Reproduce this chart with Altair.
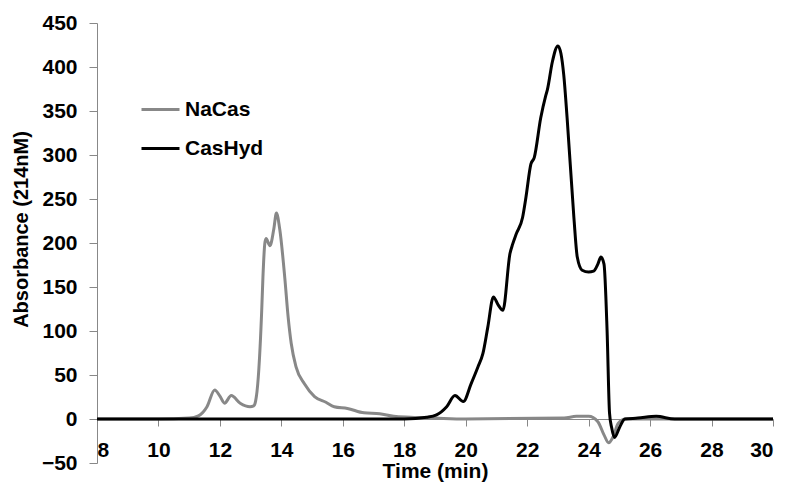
import altair as alt
import pandas as pd

# NaCas (grey) trace
nacas_t = [8, 10, 11.0, 11.3, 11.58, 11.83, 12.0, 12.15, 12.37, 12.66, 12.98, 13.1, 13.16, 13.25,
           13.36, 13.4, 13.46, 13.5, 13.63, 13.75, 13.84, 13.95, 14.11, 14.22, 14.32, 14.48, 14.75,
           15.08, 15.45, 15.72, 16.15, 16.69, 17.2, 17.66, 18.2, 19, 20, 23.2, 23.6, 24.0, 24.3,
           24.5, 24.65, 24.8, 24.96, 25.2, 26, 30]
nacas_v = [0, 0, 1, 3.6, 14, 33, 26, 18, 26.6, 18, 14, 15, 20, 48,
           123, 161, 199, 205, 197, 215, 234, 215, 161, 116, 86, 59, 40,
           25.5, 19, 14, 12, 7, 6, 3, 2, 1, 0, 1, 3, 3, -3,
           -18, -27, -20, -5, 0, 0, 0]

# CasHyd (black) trace
cashyd_t = [8, 18.0, 18.73, 19.05, 19.38, 19.65, 19.92, 20.18, 20.4, 20.56, 20.72, 20.9, 21.05,
            21.21, 21.44, 21.53, 21.64, 21.85, 21.96, 22.12, 22.23, 22.44, 22.6, 22.66, 22.82,
            23.0, 23.1, 23.19, 23.3, 23.52, 23.63, 23.79, 24.0, 24.16, 24.3, 24.4, 24.5, 24.6,
            24.68, 24.75, 24.84, 25.02, 25.18, 25.6, 26.2, 26.8, 30]
cashyd_v = [0, 0, 2, 4.7, 14, 26.6, 19.8, 40.5, 59.4, 74.5, 104.7, 138.7, 130,
            123.6, 188, 199, 210, 229, 252, 289.6, 297, 342, 367, 374.5, 406,
            424, 415, 391, 342, 229, 184, 169, 167, 168, 176, 184, 176, 101,
            6.6, -10, -21, -8.5, 0, 1, 3, 0, 0]

series_names = ["NaCas", "CasHyd"]
series_colors = ["#888888", "#000000"]
x_ticks = list(range(8, 31, 2))
y_ticks = list(range(-50, 451, 50))

df = pd.concat([
    pd.DataFrame({"t": nacas_t, "v": nacas_v, "s": "NaCas", "o": range(len(nacas_t))}),
    pd.DataFrame({"t": cashyd_t, "v": cashyd_v, "s": "CasHyd", "o": range(len(cashyd_t))}),
])

FONT = "Liberation Sans"
FS = 21
H = 440
W = 676

x_enc = alt.X("t:Q", scale=alt.Scale(domain=[8, 30], nice=False, zero=False),
              axis=alt.Axis(values=x_ticks, title="Time (min)", grid=False,
                            offset=-(H * 50 / 500), domainColor="#888888", tickColor="#888888",
                            tickSize=7, labelPadding=13, labelFont=FONT, labelFontSize=FS,
                            labelFontWeight="bold", labelColor="#000000",
                            titleFont=FONT, titleFontSize=FS, titleFontWeight="bold",
                            titleColor="#000000", titleBaseline="alphabetic", titleY=58))
y_enc = alt.Y("v:Q", scale=alt.Scale(domain=[-50, 450], nice=False, zero=False),
              axis=alt.Axis(values=y_ticks, title="Absorbance (214nM)", grid=False,
                            domainColor="#888888", tickColor="#888888", tickSize=8,
                            labelPadding=12, labelFont=FONT, labelFontSize=FS,
                            labelFontWeight="bold", labelColor="#000000",
                            titleFont=FONT, titleFontSize=20, titleFontWeight="bold",
                            titleColor="#000000", titleAngle=270, titleX=-76, titleY=206,
                            titleAlign="center", titleBaseline="middle"))
color_enc = alt.Color("s:N", scale=alt.Scale(domain=series_names, range=series_colors),
                      legend=alt.Legend(title=None, orient="none", legendX=43, legendY=66,
                                        symbolType="stroke", symbolSize=1444,
                                        symbolStrokeWidth=3, labelFont=FONT, labelFontSize=FS,
                                        labelFontWeight="bold", labelColor="#000000",
                                        labelOffset=4, rowPadding=8, padding=0))

base = alt.Chart(df).mark_line(strokeWidth=3, interpolate="monotone")
layers = [
    base.transform_filter(alt.datum.s == name).encode(x=x_enc, y=y_enc, color=color_enc,
                                                      order="o:Q")
    for name in series_names
]

chart = alt.layer(*layers).properties(
    width=W, height=H,
    autosize=alt.AutoSizeParams(type="none"),
    padding={"left": 89, "top": 15, "right": 13, "bottom": 21},
).configure_view(stroke=None)

chart.save("out.html", embed_options={"renderer": "svg", "actions": False})
